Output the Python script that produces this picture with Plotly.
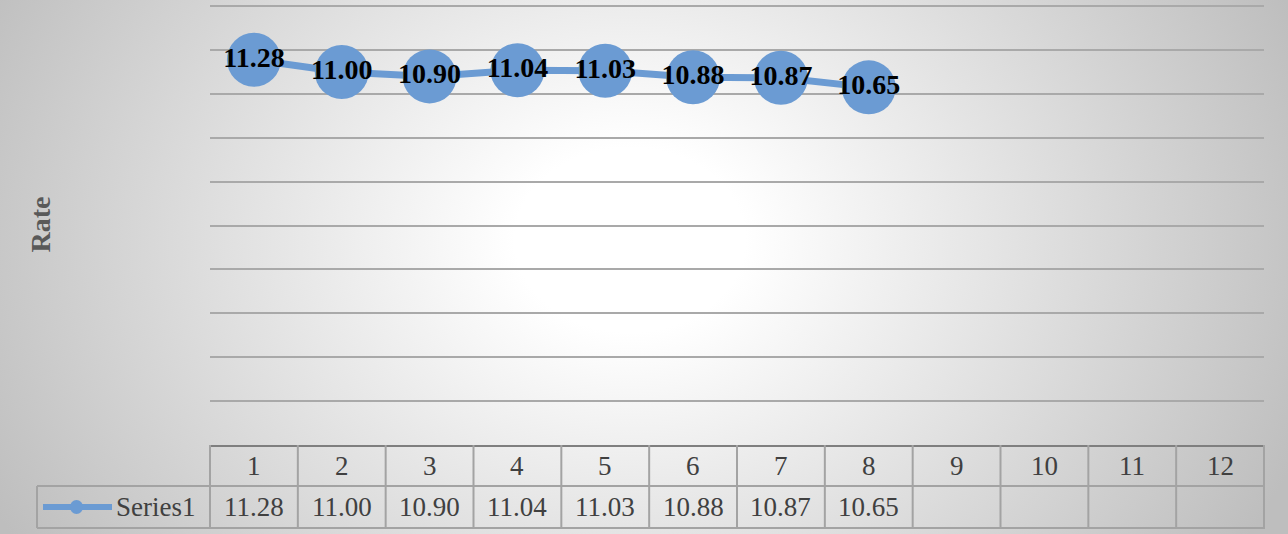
import base64
import plotly.graph_objects as go

categories = [1, 2, 3, 4, 5, 6, 7, 8, 9, 10, 11, 12]
series_name = "Series1"
series_values = [11.28, 11.00, 10.90, 11.04, 11.03, 10.88, 10.87, 10.65]
y_title = "Rate"

BLUE = "#6b9bd3"
TXT = "#404040"
GRID = "#a9a9a9"
TBL = "#a3a3a3"
SERIF = "Liberation Serif"

W, H = 1288, 534
L, R, T, B = 210, 24, 4, 89
pw, ph = W - L - R, H - T - B

svg = f'''<svg xmlns="http://www.w3.org/2000/svg" width="{W}" height="{H}" viewBox="0 0 {W} {H}" preserveAspectRatio="none">
<defs><radialGradient id="g" gradientUnits="userSpaceOnUse" cx="630" cy="240" r="720" gradientTransform="translate(630 240) scale(1 0.8) translate(-630 -240)">
<stop offset="0" stop-color="#ffffff"/><stop offset="0.16" stop-color="#ffffff"/><stop offset="1" stop-color="#bebebe"/></radialGradient></defs>
<rect width="{W}" height="{H}" fill="url(#g)"/></svg>'''
bg_src = "data:image/svg+xml;base64," + base64.b64encode(svg.encode()).decode()

fig = go.Figure()
fig.add_trace(go.Scatter(
    x=categories[:len(series_values)], y=series_values,
    mode="lines+markers+text",
    line=dict(color=BLUE, width=7),
    marker=dict(size=54, color=BLUE),
    text=[f"{v:.2f}" for v in series_values],
    textposition="middle center",
    textfont=dict(family=SERIF, size=28, color="black", weight="bold"),
    cliponaxis=False, showlegend=False, name=series_name, hoverinfo="skip",
))

shapes = []
ann = []
n = len(categories)
for i in range(n + 1):
    shapes.append(dict(type="line", xref="x domain", yref="paper", x0=i / n, x1=i / n,
                       ysizemode="pixel", yanchor=0, y0=-84, y1=0,
                       line=dict(color=TBL, width=2)))
for yy in (-41, -83):
    shapes.append(dict(type="line", xref="paper", yref="paper", xsizemode="pixel", xanchor=0,
                       x0=-173, x1=pw, ysizemode="pixel", yanchor=0, y0=yy, y1=yy,
                       line=dict(color=TBL, width=2)))
shapes.append(dict(type="line", xref="paper", yref="paper", xsizemode="pixel", xanchor=0,
                   x0=-173, x1=-173, ysizemode="pixel", yanchor=0, y0=-83, y1=-41,
                   line=dict(color=TBL, width=2)))
shapes.append(dict(type="line", xref="paper", yref="paper", xsizemode="pixel", xanchor=0,
                   x0=-167, x1=-98, ysizemode="pixel", yanchor=0, y0=-62, y1=-62,
                   line=dict(color=BLUE, width=6)))
shapes.append(dict(type="circle", xref="paper", yref="paper", xsizemode="pixel", xanchor=0,
                   x0=-140, x1=-127, ysizemode="pixel", yanchor=0, y0=-69, y1=-55,
                   fillcolor=BLUE, line=dict(width=0)))

for c in categories:
    ann.append(dict(x=c, y=0, xref="x", yref="paper", yshift=-21, text=str(c),
                    showarrow=False, yanchor="middle",
                    font=dict(family=SERIF, size=27, color=TXT)))
for c, v in zip(categories, series_values):
    ann.append(dict(x=c, y=0, xref="x", yref="paper", yshift=-62, text=f"{v:.2f}",
                    showarrow=False, yanchor="middle",
                    font=dict(family=SERIF, size=27, color=TXT)))
ann.append(dict(x=0, y=0, xref="paper", yref="paper", xshift=-96, yshift=-62, text=series_name,
                showarrow=False, xanchor="left", yanchor="middle",
                font=dict(family=SERIF, size=27, color=TXT)))
ann.append(dict(x=0, y=0.5, xref="paper", yref="paper", xshift=-170, text=f"<b>{y_title}</b>",
                textangle=-90, showarrow=False, xanchor="center", yanchor="middle",
                font=dict(family=SERIF, size=28, color="#595959")))

fig.update_layout(
    width=W, height=H,
    margin=dict(l=L, r=R, t=T, b=B),
    paper_bgcolor="#d8d8d8", plot_bgcolor="rgba(0,0,0,0)",
    images=[dict(source=bg_src, xref="paper", yref="paper",
                 x=-L / pw, y=1 + T / ph, sizex=W / pw, sizey=H / ph,
                 xanchor="left", yanchor="top", sizing="stretch", layer="below")],
    xaxis=dict(range=[0.5, 12.5], showgrid=False, zeroline=False, showticklabels=False,
               ticks="", showline=True, linecolor="#7f7f7f", linewidth=2, fixedrange=True),
    yaxis=dict(range=[2.5, 12.55], tick0=2.5, dtick=1, showgrid=True, gridcolor=GRID,
               gridwidth=1.5, zeroline=False, showticklabels=False, ticks="", showline=False,
               fixedrange=True),
    shapes=shapes, annotations=ann,
)
fig.write_html("out.html", config={"displayModeBar": False},
               post_script="document.body.style.margin='0';")
